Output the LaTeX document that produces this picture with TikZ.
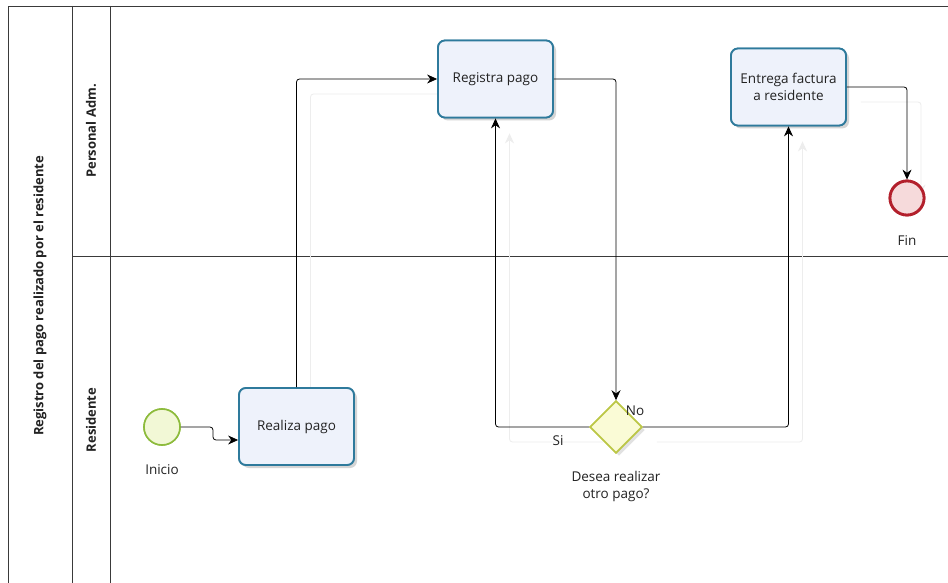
\documentclass[tikz,border=0pt]{standalone}
\usepackage{fontspec}
\setmainfont{Open Sans}
\usetikzlibrary{arrows.meta,shapes.geometric,shadows}
\definecolor{taskline}{HTML}{2E7A9C}
\definecolor{taskfill}{HTML}{EEF2FB}
\definecolor{startline}{HTML}{8DBB3C}
\definecolor{startfill}{HTML}{F2F8D6}
\definecolor{endline}{HTML}{B3202C}
\definecolor{endfill}{HTML}{F6DADB}
\definecolor{gwline}{HTML}{BCC746}
\definecolor{gwfill}{HTML}{FAFBD6}
\definecolor{poolline}{HTML}{3A3A3A}
\definecolor{txt}{HTML}{222222}
\tikzset{
  task/.style={draw=taskline, line width=1.8pt, fill=taskfill, rounded corners=7pt,
    minimum width=115pt, minimum height=77pt, align=center, text=txt,
    font=\fontsize{13.5}{17}\selectfont,
    drop shadow={opacity=0.18, shadow xshift=3pt, shadow yshift=-3pt}},
  startev/.style={circle, draw=startline, line width=1.6pt, fill=startfill,
    minimum size=36pt, inner sep=0pt},
  endev/.style={circle, draw=endline, line width=2.8pt, fill=endfill,
    minimum size=34pt, inner sep=0pt},
  gateway/.style={diamond, draw=gwline, line width=1.6pt, fill=gwfill,
    minimum width=52pt, minimum height=52pt, inner sep=0pt,
    drop shadow={opacity=0.12, shadow xshift=3pt, shadow yshift=-3pt}},
  flow/.style={draw=black, line width=0.8pt, rounded corners=3pt,
    -{Stealth[length=10pt,width=9pt]}},
  ghost/.style={draw=black!7, line width=0.8pt, rounded corners=3pt,
    -{Stealth[length=10pt,width=9pt]}},
  lbl/.style={text=txt, font=\fontsize{13.5}{17}\selectfont, align=center, inner sep=0pt},
  lanehead/.style={text=txt, font=\bfseries\fontsize{13}{15}\selectfont, rotate=90, inner sep=0pt},
  poolrule/.style={draw=poolline, line width=0.8pt}
}
\begin{document}
\begin{tikzpicture}[x=1pt,y=-1pt]
\useasboundingbox (0,0) rectangle (948,583);
\fill[white] (0,0) rectangle (948,583);

% pool and lanes
\draw[poolrule] (948,6) -- (8,6) -- (8,583);
\draw[poolrule] (72,6) -- (72,583);
\draw[poolrule] (110,6) -- (110,583);
\draw[poolrule] (72,256) -- (948,256);
\node[lanehead] (pool) at (40,296) {Registro del pago realizado por el residente};
\node[lanehead] (laneA) at (91,131) {Personal Adm.};
\node[lanehead] (laneB) at (91,420) {Residente};

% anchor point for the start connector
\coordinate (bend) at (213,440);

% flow objects (placed first so faint connector shadows can refer to them)
\path (162,427) node[startev] (inicio) {};
\path (296.5,426.5) node[task] (realiza) {Realiza pago};
\path (495.5,79) node[task] (registra) {Registra pago};
\path (616,427) node[gateway] (gw) {};
\path (788.5,87) node[task] (entrega) {Entrega factura\\a residente};
\path (907,198) node[endev] (fin) {};

% faint connector shadows
\begin{scope}[transform canvas={shift={(14,15)}}]
\draw[ghost] (realiza.north) |- (registra.west);
\draw[ghost] (gw.west) -| (registra.south);
\draw[ghost] (gw.east) -| (entrega.south);
\draw[ghost] (entrega.east) -| (fin.north);
\end{scope}

% redraw flow objects above the shadows
\path (162,427) node[startev] {};
\path (296.5,426.5) node[task] {Realiza pago};
\path (495.5,79) node[task] {Registra pago};
\path (616,427) node[gateway] {};
\path (788.5,87) node[task] {Entrega factura\\a residente};
\path (907,198) node[endev] {};

% sequence flows
\draw[flow] (inicio.east) -| (bend) -- (bend -| realiza.west);
\draw[flow] (realiza.north) |- (registra.west);
\draw[flow] (registra.east) -| (gw.north);
\draw[flow] (gw.west) -| (registra.south);
\draw[flow] (gw.east) -| (entrega.south);
\draw[flow] (entrega.east) -| (fin.north);

% labels
\node[lbl] (linicio) at (162,470) {Inicio};
\node[lbl] (lfin) at (907,241) {Fin};
\node[lbl] (lno) at (635,411) {No};
\node[lbl] (lsi) at (558,441) {Si};
\node[lbl] (lgw) at (616,486) {Desea realizar\\otro pago?};
\end{tikzpicture}
\end{document}
